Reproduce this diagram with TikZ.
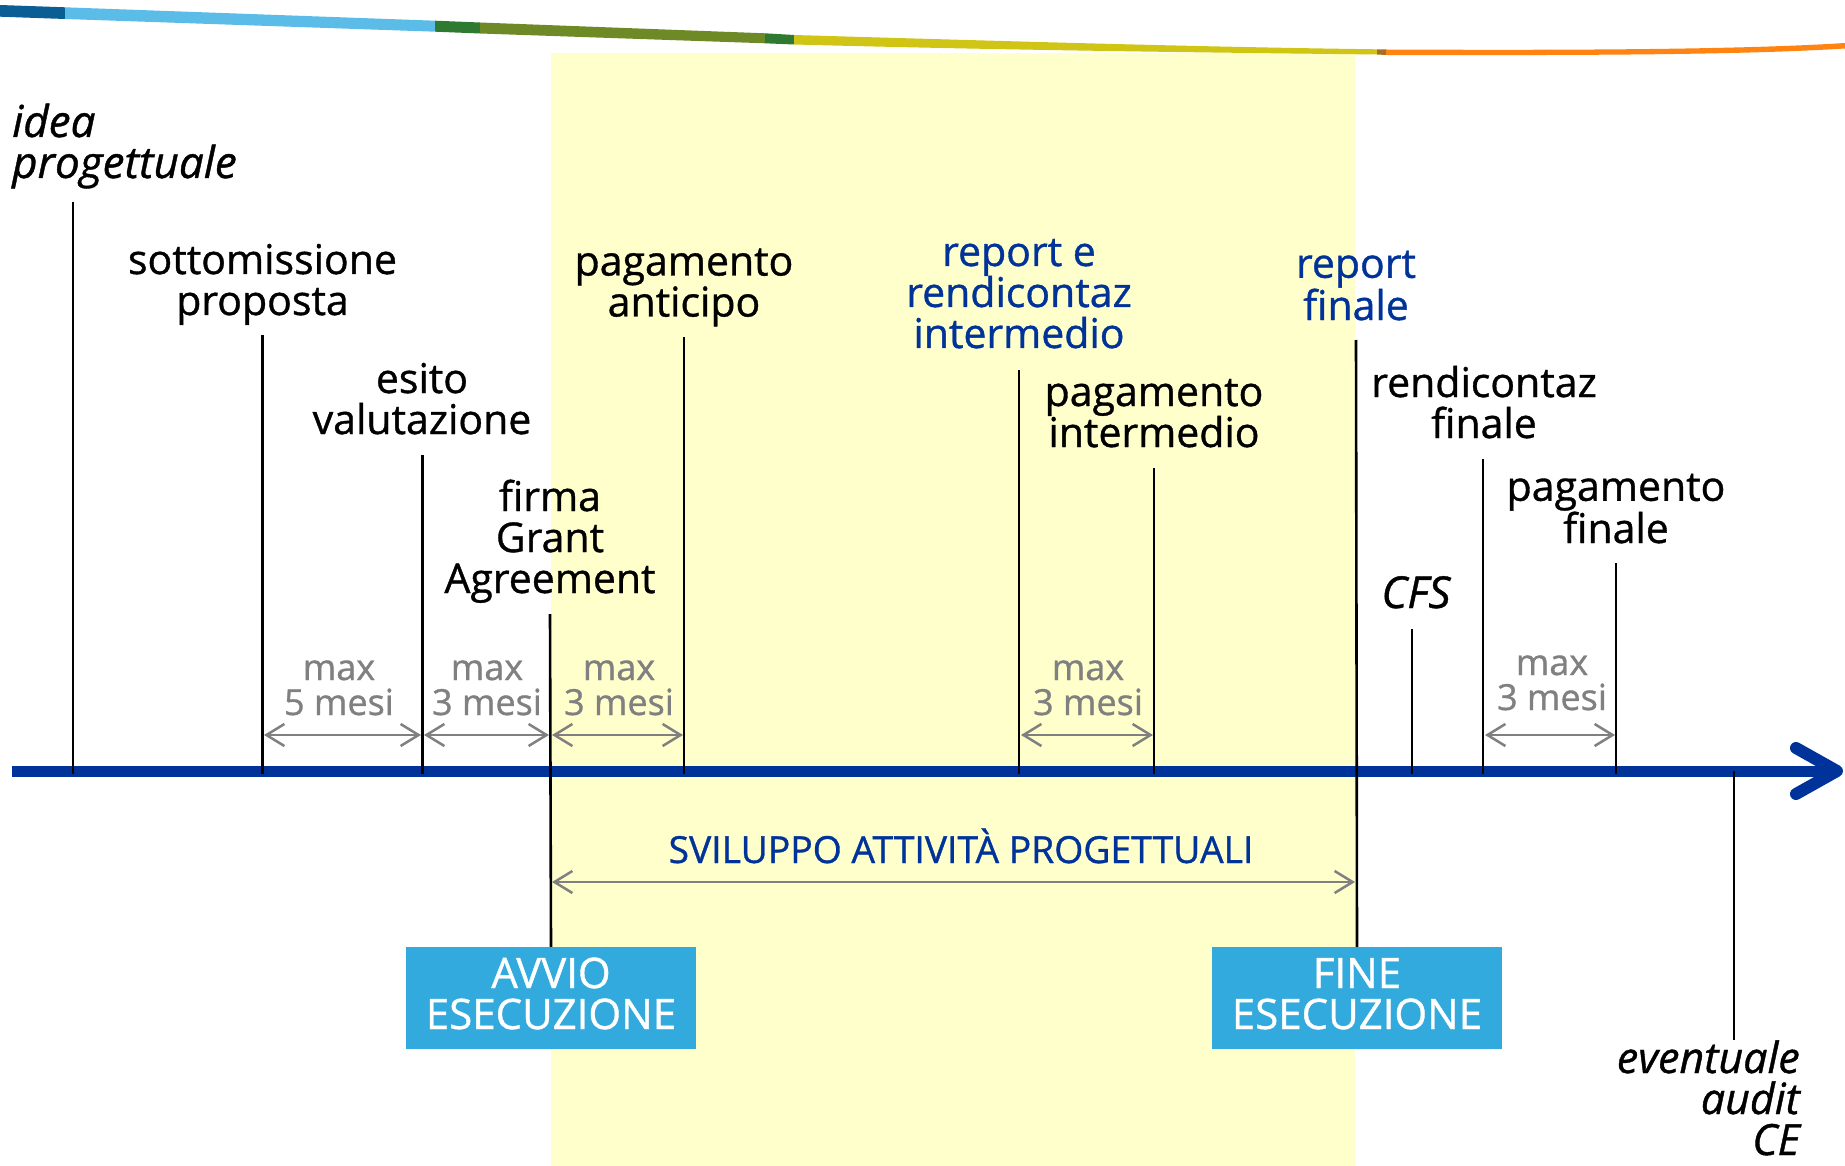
\documentclass[tikz,border=0pt]{standalone}
\usepackage{fontspec}
\setmainfont{Open Sans}[FakeBold=0.9]
\usetikzlibrary{arrows.meta}
\definecolor{axisblue}{RGB}{0,51,153}
\definecolor{txtblue}{RGB}{0,51,153}
\definecolor{dimgrey}{RGB}{128,128,128}
\definecolor{paleyellow}{RGB}{255,255,204}
\definecolor{boxblue}{RGB}{51,170,221}
\definecolor{bandA}{RGB}{11,94,148}
\definecolor{bandB}{RGB}{91,188,232}
\definecolor{bandC}{RGB}{46,122,48}
\definecolor{bandD}{RGB}{110,138,38}
\definecolor{bandE}{RGB}{208,196,20}
\definecolor{bandF}{RGB}{170,110,30}
\definecolor{bandG}{RGB}{255,132,18}
\begin{document}
\begin{tikzpicture}[x=1pt,y=-1pt,
  lbl/.style={inner sep=0pt, anchor=base, align=center, font=\fontsize{41}{41}\selectfont},
  itl/.style={inner sep=0pt, font=\fontsize{44}{41}\selectfont\itshape},
  bluelbl/.style={lbl, text=txtblue},
  dimlbl/.style={inner sep=0pt, anchor=base, align=center, text=dimgrey, font=\fontsize{36}{35}\selectfont},
  tick/.style={draw=black, line width=2.6pt},
  dimarrow/.style={draw=dimgrey, line width=2.5pt, {Straight Barb[length=18pt,width=22pt]}-{Straight Barb[length=18pt,width=22pt]}},
  phasebox/.style={fill=boxblue, minimum width=290pt, minimum height=102pt, inner sep=0pt},
  boxtext/.style={inner sep=0pt, anchor=base, align=center, text=white, font=\fontsize{42}{41}\selectfont}
]
\useasboundingbox (0,0) rectangle (1845,1166);
% background band of the execution period
\fill[paleyellow] (551,53) rectangle (1355,1166);

% coloured band at the top
\fill[bandA] (0,5) -- (65,7.3) -- (65,19) -- (0,16.7) -- cycle;
\fill[bandB] (65,7.3) -- (435,20.7) -- (435,31.7) -- (65,19) -- cycle;
\fill[bandC] (435,20.7) -- (480,22.5) -- (480,33.5) -- (435,31.7) -- cycle;
\fill[bandD] (480,22.5) -- (765,33.3) -- (765,43.3) -- (480,33.5) -- cycle;
\fill[bandC] (765,33.3) -- (794,35) -- (794,44.5) -- (765,43.3) -- cycle;
\fill[bandE] (794,35) .. controls (1000,41) and (1200,47) .. (1377,49.3) -- (1377,54.5) .. controls (1200,52.5) and (1000,50) .. (794,44.5) -- cycle;
\fill[bandF] (1377,49.3) -- (1386,49.5) -- (1386,55) -- (1377,54.5) -- cycle;
\fill[bandG] (1386,49.5) .. controls (1600,50.5) and (1750,49) .. (1845,43) -- (1845,48.5) .. controls (1750,54.5) and (1600,55.5) .. (1386,55) -- cycle;

% time axis
\coordinate (axS) at (12,771);
\coordinate (axE) at (1834,771);
\coordinate (hdA) at (1796,748);
\coordinate (hdT) at (1837,771);
\coordinate (hdB) at (1796,794);
\draw[axisblue, line width=11pt] (axS) -- (axE);
\draw[axisblue, line width=12pt, line cap=round, line join=round] (hdA) -- (hdT) -- (hdB);

% phase boxes
\node[phasebox] (avvio) at (551,998) {};
\node[phasebox] (fine) at (1357,998) {};
\node[boxtext] (avvioTxt) at (551,1029) {AVVIO\\ESECUZIONE};
\node[boxtext] (fineTxt) at (1357,1029) {FINE\\ESECUZIONE};

% tick coordinates
\coordinate (tIdea) at (73,202);      \coordinate (bIdea) at (73,774);
\coordinate (tSott) at (262.5,335);   \coordinate (bSott) at (262.5,774);
\coordinate (tEsito) at (422.5,455);  \coordinate (bEsito) at (422.5,774);
\coordinate (tFirma) at (550,614);
\coordinate (tAnt) at (684,337);      \coordinate (bAnt) at (684,774);
\coordinate (tRep) at (1019,370);     \coordinate (bRep) at (1019,774);
\coordinate (tPagI) at (1154,468);    \coordinate (bPagI) at (1154,774);
\coordinate (tRepF) at (1356,340);
\coordinate (tCFS) at (1412,629);     \coordinate (bCFS) at (1412,774);
\coordinate (tRendF) at (1483,459);   \coordinate (bRendF) at (1483,774);
\coordinate (tPagF) at (1616,563);    \coordinate (bPagF) at (1616,774);
\coordinate (tAudit) at (1734,771);   \coordinate (bAudit) at (1734,1040);

\draw[tick] (tIdea) -- (bIdea);
\draw[tick] (tSott) -- (bSott);
\draw[tick] (tEsito) -- (bEsito);
\draw[tick] (tFirma) -- (avvio.north);
\draw[tick] (tAnt) -- (bAnt);
\draw[tick] (tRep) -- (bRep);
\draw[tick] (tPagI) -- (bPagI);
\draw[tick] (tRepF) -- (fine.north);
\draw[tick] (tCFS) -- (bCFS);
\draw[tick] (tRendF) -- (bRendF);
\draw[tick] (tPagF) -- (bPagF);
\draw[tick] (tAudit) -- (bAudit);

% duration arrows
\coordinate (d1a) at (264,735);  \coordinate (d1b) at (421,735);
\coordinate (d2a) at (424,735);  \coordinate (d2b) at (549,735);
\coordinate (d3a) at (552,735);  \coordinate (d3b) at (683,735);
\coordinate (d4a) at (1021,735); \coordinate (d4b) at (1153,735);
\coordinate (d5a) at (1485,735); \coordinate (d5b) at (1615,735);
\coordinate (dSa) at (552,882);  \coordinate (dSb) at (1355,882);
\draw[dimarrow] (d1a) -- (d1b);
\draw[dimarrow] (d2a) -- (d2b);
\draw[dimarrow] (d3a) -- (d3b);
\draw[dimarrow] (d4a) -- (d4b);
\draw[dimarrow] (d5a) -- (d5b);
\draw[dimarrow] (dSa) -- (dSb);

\node[dimlbl] (m1) at (339,715) {max\\5 mesi};
\node[dimlbl] (m2) at (487,715) {max\\3 mesi};
\node[dimlbl] (m3) at (619,715) {max\\3 mesi};
\node[dimlbl] (m4) at (1088,715) {max\\3 mesi};
\node[dimlbl] (m5) at (1552,710) {max\\3 mesi};

% labels (anchored at the baseline of their last line)
\node[itl, anchor=base west, align=left] (lIdea) at (12,178) {idea\\progettuale};
\node[lbl] (lSott) at (262.5,315) {sottomissione\\proposta};
\node[lbl] (lEsito) at (422,434) {esito\\valutazione};
\node[lbl] (lFirma) at (550,593) {firma\\Grant\\Agreement};
\node[lbl] (lAnt) at (684,316.5) {pagamento\\anticipo};
\node[bluelbl] (lRep) at (1019,348) {report e\\rendicontaz\\intermedio};
\node[lbl] (lPagI) at (1154,447) {pagamento\\intermedio};
\node[bluelbl] (lRepF) at (1356,320) {report\\finale};
\node[lbl] (lRendF) at (1484,438) {rendicontaz\\finale};
\node[itl, anchor=base] (lCFS) at (1416,608) {CFS};
\node[lbl] (lPagF) at (1616,543) {pagamento\\finale};
\node[itl, anchor=base east, align=right, font=\fontsize{43}{41}\selectfont\itshape] (lAudit) at (1800,1155) {eventuale\\audit\\CE};
\node[inner sep=0pt, anchor=base, text=txtblue, font=\fontsize{37.3}{37}\selectfont] (lSvil) at (961,863) {SVILUPPO ATTIVITÀ PROGETTUALI};
\end{tikzpicture}
\end{document}
